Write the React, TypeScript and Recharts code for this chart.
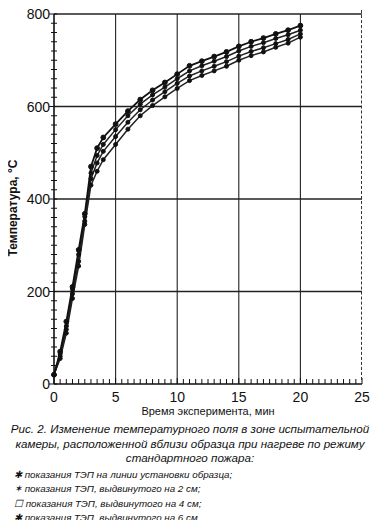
import React from "react"
import { LineChart, Line, XAxis, YAxis, ReferenceLine } from "recharts"

// время, мин
const times = [0, 0.5, 1, 1.5, 2, 2.5, 3, 3.5, 4, 5, 6, 7, 8, 9, 10, 11, 12, 13, 14, 15, 16, 17, 18, 19, 20]
// ТЭП на линии установки образца
const line0 = [20, 70, 135, 210, 290, 368, 470, 510, 533, 562, 590, 615, 635, 652, 670, 688, 698, 708, 718, 730, 740, 748, 757, 765, 775]
// выдвинут на 2 см
const line2 = [20, 65, 125, 205, 280, 362, 456, 494, 518, 550, 580, 605, 625, 642, 660, 677, 688, 698, 708, 720, 730, 738, 747, 755, 765]
// выдвинут на 4 см
const line4 = [20, 60, 118, 195, 265, 352, 444, 478, 503, 535, 566, 593, 614, 632, 650, 666, 677, 687, 697, 709, 719, 727, 736, 745, 757]
// выдвинут на 6 см
const line6 = [20, 55, 110, 185, 255, 345, 430, 460, 485, 518, 551, 580, 602, 621, 639, 656, 667, 677, 687, 700, 710, 718, 728, 737, 750]

const xMajor = [0, 5, 10, 15, 20, 25]
const yMajor = [0, 200, 400, 600, 800]
const xMinor = Array.from({ length: 51 }, (_, i) => i * 0.5)
const yMinor = Array.from({ length: 41 }, (_, i) => i * 20)

const chartData = times.map((t, i) => ({
  t,
  a: line0[i],
  b: line2[i],
  c: line4[i],
  d: line6[i],
}))

const CHART_W = 370
const CHART_H = 404
const TOP = 10
const RIGHT = 16
const X_AXIS_H = 24
const PLOT_H = CHART_H - TOP - X_AXIS_H

const font = "'Liberation Sans', Arial, sans-serif"

const XTick = ({ x, y, payload }: any) => {
  const major = xMajor.includes(payload.value)
  return (
    <g>
      <line x1={x} x2={x} y1={y} y2={y - (major ? 6 : 5)} stroke="#111" strokeWidth={1} />
      {major && (
        <text x={x} y={y + 18} textAnchor="middle" fontSize={14} fontFamily={font} fill="#111">
          {payload.value}
        </text>
      )}
    </g>
  )
}

const YTick = ({ x, y, payload }: any) => {
  const major = yMajor.includes(payload.value)
  return (
    <g>
      <line x1={x - (major ? 5 : 3)} x2={x + 3} y1={y} y2={y} stroke="#111" strokeWidth={1} />
      {major && (
        <text x={x - 4} y={y + 5} textAnchor="end" fontSize={14} fontFamily={font} fill="#111">
          {payload.value}
        </text>
      )}
    </g>
  )
}

const dot = { r: 2, fill: "#111", stroke: "#111", strokeWidth: 1 }

export default function App() {
  return (
    <div style={{ position: "relative", width: 370, height: 516, fontFamily: font, color: "#111" }}>
      <div style={{ marginTop: -4 }}>
        <LineChart
          width={CHART_W}
          height={CHART_H}
          data={chartData}
          margin={{ top: TOP, right: RIGHT, bottom: 0, left: 0 }}
        >
          <XAxis
            dataKey="t"
            type="number"
            domain={[0, 25]}
            ticks={xMinor}
            interval={0}
            height={X_AXIS_H}
            tickLine={false}
            tickSize={0}
            tickMargin={0}
            tick={<XTick />}
            axisLine={{ stroke: "#111", strokeWidth: 1.6 }}
          />
          <YAxis
            type="number"
            domain={[0, 800]}
            ticks={yMinor}
            interval={0}
            width={46}
            tickLine={false}
            tickSize={0}
            tickMargin={0}
            tick={<YTick />}
            axisLine={{ stroke: "#111", strokeWidth: 1.6 }}
          />
          {xMajor.slice(1, -1).map((v) => (
            <ReferenceLine key={"x" + v} x={v} stroke="#222" strokeWidth={1.1} />
          ))}
          {yMajor.slice(1).map((v) => (
            <ReferenceLine key={"y" + v} y={v} stroke="#222" strokeWidth={v === 800 ? 1.6 : 1.3} ifOverflow="visible" />
          ))}
          <Line dataKey="d" stroke="#222" strokeWidth={1.5} dot={dot} isAnimationActive={false} />
          <Line dataKey="c" stroke="#222" strokeWidth={1.5} dot={dot} isAnimationActive={false} />
          <Line dataKey="b" stroke="#222" strokeWidth={1.5} dot={dot} isAnimationActive={false} />
          <Line dataKey="a" stroke="#111" strokeWidth={1.8} dot={{ ...dot, r: 2.4 }} isAnimationActive={false} />
        </LineChart>
      </div>

      {/* правая граница поля графика — пунктир */}
      <div
        style={{
          position: "absolute",
          left: CHART_W - RIGHT - 1,
          top: TOP - 4,
          width: 0,
          height: PLOT_H,
          borderLeft: "1.5px dashed #333",
        }}
      />

      <div
        style={{
          position: "absolute",
          left: 5,
          top: 204,
          transform: "translate(-50%, -50%) rotate(-90deg)",
          fontSize: 12,
          fontWeight: "bold",
          whiteSpace: "nowrap",
        }}
      >
        Температура, °С
      </div>

      <div style={{ position: "absolute", left: 0, width: 400, top: 401, textAlign: "center", fontSize: 11 }}>
        Время эксперимента, мин
      </div>

      <div
        style={{
          position: "absolute",
          left: -8,
          width: 380,
          top: 418,
          textAlign: "center",
          fontSize: 11.6,
          fontStyle: "italic",
          lineHeight: "14.5px",
          whiteSpace: "nowrap",
        }}
      >
        Рис. 2. Изменение температурного поля в зоне испытательной
        <br />
        камеры, расположенной вблизи образца при нагреве по режиму
        <br />
        стандартного пожара:
      </div>

      <div style={{ position: "absolute", left: 6, top: 464, fontSize: 9.8, fontStyle: "italic", lineHeight: "14.3px", whiteSpace: "nowrap" }}>
        <div>✱ показания ТЭП на линии установки образца;</div>
        <div>✶ показания ТЭП, выдвинутого на 2 см;</div>
        <div>☐ показания ТЭП, выдвинутого на 4 см;</div>
        <div>✱ показания ТЭП, выдвинутого на 6 см</div>
      </div>
    </div>
  )
}
